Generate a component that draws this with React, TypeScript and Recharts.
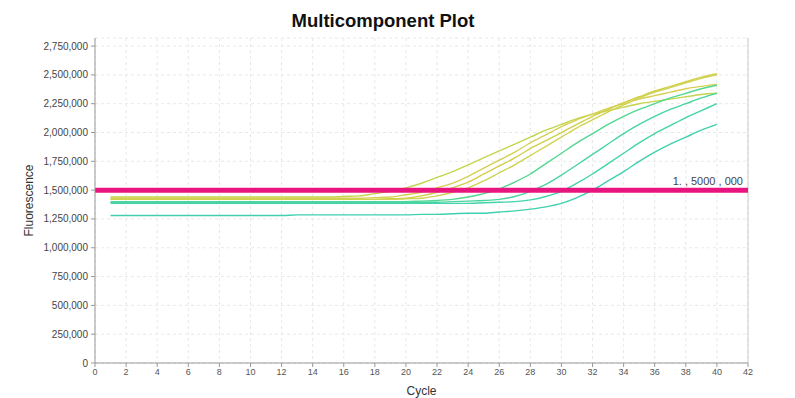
import React from 'react';
import {
  LineChart,
  Line,
  XAxis,
  YAxis,
  CartesianGrid,
  ReferenceLine,
} from 'recharts';

// cycles 1..40
const cycles = Array.from({ length: 40 }, (_, i) => i + 1);

// fluorescence per cycle, in millions
const y1 = [
  1.44, 1.44, 1.44, 1.44, 1.44, 1.44, 1.44, 1.44, 1.44, 1.44,
  1.44, 1.44, 1.44, 1.44, 1.44, 1.445, 1.45, 1.47, 1.49, 1.52,
  1.56, 1.61, 1.66, 1.72, 1.78, 1.84, 1.9, 1.96, 2.02, 2.07,
  2.12, 2.16, 2.19, 2.22, 2.25, 2.27, 2.29, 2.31, 2.33, 2.34,
];
const y2 = [
  1.43, 1.43, 1.43, 1.43, 1.43, 1.43, 1.43, 1.43, 1.43, 1.43,
  1.43, 1.43, 1.43, 1.43, 1.43, 1.43, 1.43, 1.435, 1.44, 1.46,
  1.48, 1.52, 1.56, 1.62, 1.69, 1.76, 1.83, 1.91, 1.98, 2.05,
  2.11, 2.16, 2.21, 2.25, 2.29, 2.32, 2.35, 2.38, 2.4, 2.42,
];
const y3 = [
  1.42, 1.42, 1.42, 1.42, 1.42, 1.42, 1.42, 1.42, 1.42, 1.42,
  1.42, 1.42, 1.42, 1.42, 1.42, 1.42, 1.42, 1.42, 1.425, 1.43,
  1.45, 1.48, 1.52, 1.57, 1.64, 1.71, 1.78, 1.86, 1.93, 2.0,
  2.07, 2.14, 2.2, 2.26, 2.31, 2.36, 2.4, 2.44, 2.48, 2.51,
];
const y4 = [
  1.42, 1.42, 1.42, 1.42, 1.42, 1.42, 1.42, 1.42, 1.42, 1.42,
  1.42, 1.42, 1.42, 1.42, 1.42, 1.42, 1.42, 1.42, 1.42, 1.425,
  1.43, 1.45, 1.48, 1.52, 1.58, 1.65, 1.72, 1.8, 1.88, 1.96,
  2.04, 2.11, 2.18, 2.24, 2.3, 2.35, 2.39, 2.43, 2.47, 2.5,
];
const t1 = [
  1.4, 1.4, 1.4, 1.4, 1.4, 1.4, 1.4, 1.4, 1.4, 1.4,
  1.4, 1.4, 1.4, 1.4, 1.4, 1.4, 1.4, 1.4, 1.4, 1.4,
  1.405, 1.41, 1.42, 1.44, 1.47, 1.51, 1.57, 1.64, 1.73, 1.82,
  1.91, 1.99, 2.07, 2.14, 2.2, 2.25, 2.3, 2.34, 2.38, 2.41,
];
const t2 = [
  1.395, 1.395, 1.395, 1.395, 1.395, 1.395, 1.395, 1.395, 1.395, 1.395,
  1.395, 1.395, 1.395, 1.395, 1.395, 1.395, 1.395, 1.395, 1.395, 1.395,
  1.395, 1.395, 1.4, 1.405, 1.41, 1.42, 1.445, 1.49, 1.55, 1.63,
  1.72, 1.81, 1.9, 1.99, 2.07, 2.14, 2.2, 2.25, 2.3, 2.34,
];
const t3 = [
  1.385, 1.385, 1.385, 1.385, 1.385, 1.385, 1.385, 1.385, 1.385, 1.385,
  1.385, 1.385, 1.385, 1.385, 1.385, 1.385, 1.385, 1.385, 1.385, 1.385,
  1.385, 1.385, 1.385, 1.385, 1.39, 1.395, 1.4, 1.415, 1.445, 1.49,
  1.56, 1.64, 1.73, 1.82, 1.91, 1.99, 2.06, 2.13, 2.19, 2.25,
];
const t4 = [
  1.28, 1.28, 1.28, 1.28, 1.28, 1.28, 1.28, 1.28, 1.28, 1.28,
  1.28, 1.28, 1.285, 1.285, 1.285, 1.285, 1.285, 1.285, 1.285, 1.285,
  1.29, 1.29, 1.295, 1.3, 1.3, 1.31, 1.32, 1.335, 1.355, 1.385,
  1.435, 1.5, 1.58, 1.66, 1.75, 1.83, 1.9, 1.96, 2.02, 2.07,
];

const series = [
  { key: 'y1', values: y1, color: '#c4d44c' },
  { key: 'y2', values: y2, color: '#d6d052' },
  { key: 'y3', values: y3, color: '#d2ce46' },
  { key: 'y4', values: y4, color: '#cfd352' },
  { key: 't1', values: t1, color: '#52d890' },
  { key: 't2', values: t2, color: '#48d5a0' },
  { key: 't3', values: t3, color: '#44d3aa' },
  { key: 't4', values: t4, color: '#40d0b0' },
];

const xTicks = Array.from({ length: 22 }, (_, i) => i * 2);
const yTicks = Array.from({ length: 12 }, (_, i) => i * 250000);
const threshold = 1500000;
const thresholdLabel = '1. , 5000 , 000';

const data = cycles.map((c, i) => {
  const row: Record<string, number> = { cycle: c };
  series.forEach((s) => {
    row[s.key] = s.values[i] * 1000000;
  });
  return row;
});

const font = '"Liberation Sans", Arial, sans-serif';

export default function App() {
  return (
    <div style={{ position: 'absolute', left: 0, top: 0, width: 795, height: 398, background: '#fff' }}>
      <div
        style={{
          position: 'absolute',
          left: 283,
          width: 200,
          top: 10,
          textAlign: 'center',
          fontFamily: font,
          fontWeight: 'bold',
          fontSize: 18.5,
          color: '#111',
        }}
      >
        Multicomponent Plot
      </div>
      <LineChart
        width={795}
        height={398}
        data={data}
        margin={{ top: 38, right: 47, left: 0, bottom: 0 }}
        style={{ fontFamily: font }}
      >
        <CartesianGrid strokeDasharray="3 3" stroke="#e8e8e8" />
        <XAxis
          dataKey="cycle"
          type="number"
          domain={[0, 42]}
          ticks={xTicks}
          height={35}
          stroke="#999"
          tickSize={4}
          tickMargin={2}
          tick={{ fontSize: 9, fill: '#555' }}
          label={{ value: 'Cycle', position: 'insideBottom', offset: 3, fontSize: 12, fill: '#333' }}
        />
        <XAxis
          xAxisId="top"
          orientation="top"
          dataKey="cycle"
          type="number"
          domain={[0, 42]}
          ticks={xTicks}
          height={0}
          stroke="#ccc"
          tickSize={3}
          mirror
          tickFormatter={() => ''}
        />
        <YAxis
          type="number"
          domain={[0, 2820000]}
          ticks={yTicks}
          width={95}
          stroke="#999"
          tickSize={4}
          tickMargin={3}
          tick={{ fontSize: 10, fill: '#444' }}
          tickFormatter={(v: number) => v.toLocaleString('en-US')}
          label={{
            value: 'Fluorescence',
            angle: -90,
            position: 'insideLeft',
            offset: 29,
            fontSize: 12,
            fill: '#333',
            style: { textAnchor: 'middle' },
          }}
        />
        <ReferenceLine x={42} stroke="#ccc" />
        {series.map((s) => (
          <Line
            key={s.key}
            type="monotone"
            dataKey={s.key}
            stroke={s.color}
            strokeWidth={1.4}
            dot={false}
            isAnimationActive={false}
          />
        ))}
        <ReferenceLine
          y={threshold}
          stroke="#e8157f"
          strokeWidth={5}
          label={{
            value: thresholdLabel,
            position: 'insideBottomRight',
            offset: 5,
            fontSize: 11,
            fill: '#444',
          }}
        />
      </LineChart>
    </div>
  );
}
